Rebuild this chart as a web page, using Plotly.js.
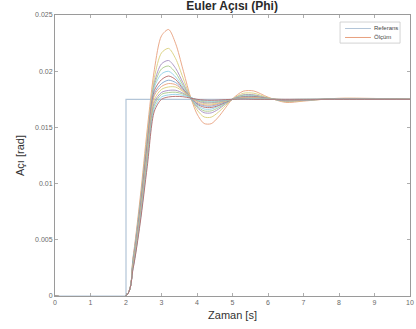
<!DOCTYPE html>
<html>
<head>
<meta charset="utf-8">
<script src="https://cdn.plot.ly/plotly-3.0.1.min.js"></script>
<style>html,body{margin:0;padding:0;background:#fff;}#chart{width:416px;height:329px;}</style>
</head>
<body>
<div id="chart"></div>
<script>
// Reference step
const refTime = [0, 2, 2, 10];
const refValue = [0, 0, 0.0175, 0.0175];

// Shared sample times of the measured responses (s)
const measTime = [0, 2, 2.2, 2.4, 2.6, 2.8, 3.0, 3.2, 3.4, 3.6, 3.8, 4.0, 4.2, 4.4, 4.6, 4.8, 5.0, 5.3, 5.6, 6.0, 6.5, 7.0, 8.0, 10.0];

const meas01 = [0, 0, 0.0035, 0.00875, 0.01488, 0.02016, 0.02315, 0.02371, 0.02244, 0.0202, 0.0179, 0.0162, 0.01535, 0.01533, 0.01591, 0.01673, 0.01754, 0.01822, 0.01824, 0.01769, 0.01722, 0.01734, 0.01759, 0.0175];
const meas02 = [0, 0, 0.00333, 0.0084, 0.01435, 0.01944, 0.02163, 0.02203, 0.02111, 0.01946, 0.0178, 0.01656, 0.01593, 0.01591, 0.01635, 0.01694, 0.01752, 0.01803, 0.01804, 0.01764, 0.01729, 0.01738, 0.01757, 0.0175];
const meas03 = [0, 0, 0.00333, 0.00823, 0.014, 0.01899, 0.02065, 0.02095, 0.02025, 0.019, 0.01773, 0.01678, 0.01631, 0.01629, 0.01661, 0.01708, 0.01752, 0.0179, 0.0179, 0.0176, 0.01734, 0.01741, 0.01755, 0.0175];
const meas04 = [0, 0, 0.00315, 0.00805, 0.01383, 0.01876, 0.0202, 0.02046, 0.01985, 0.01878, 0.01769, 0.01689, 0.01647, 0.01647, 0.01675, 0.01713, 0.01752, 0.01785, 0.01785, 0.01759, 0.01736, 0.01743, 0.01754, 0.0175];
const meas05 = [0, 0, 0.00315, 0.00788, 0.01365, 0.01857, 0.01976, 0.01999, 0.01948, 0.01859, 0.01766, 0.01698, 0.01664, 0.01663, 0.01687, 0.01719, 0.01752, 0.01778, 0.0178, 0.01757, 0.0174, 0.01743, 0.01754, 0.0175];
const meas06 = [0, 0, 0.00298, 0.0077, 0.01348, 0.01829, 0.01925, 0.01957, 0.01925, 0.01846, 0.01771, 0.01708, 0.0168, 0.01677, 0.01694, 0.01722, 0.0175, 0.01773, 0.01775, 0.01757, 0.01741, 0.01745, 0.01752, 0.0175];
const meas07 = [0, 0, 0.00298, 0.00753, 0.01313, 0.01803, 0.0189, 0.0192, 0.01899, 0.01838, 0.01771, 0.01715, 0.01692, 0.01689, 0.01705, 0.01727, 0.0175, 0.01769, 0.01769, 0.01755, 0.01743, 0.01747, 0.01752, 0.0175];
const meas08 = [0, 0, 0.0028, 0.00735, 0.01295, 0.01785, 0.01864, 0.0189, 0.0188, 0.01829, 0.01771, 0.01724, 0.01701, 0.01699, 0.01712, 0.01733, 0.0175, 0.01766, 0.01766, 0.01755, 0.01745, 0.01747, 0.0175, 0.0175];
const meas09 = [0, 0, 0.0028, 0.00718, 0.0126, 0.0175, 0.01838, 0.0186, 0.01859, 0.0182, 0.01773, 0.01733, 0.01712, 0.01708, 0.01719, 0.01734, 0.0175, 0.01762, 0.01762, 0.01754, 0.01747, 0.01748, 0.0175, 0.0175];
const meas10 = [0, 0, 0.00263, 0.007, 0.01243, 0.01724, 0.01811, 0.01829, 0.0183, 0.01806, 0.01771, 0.01738, 0.0172, 0.01719, 0.01726, 0.01738, 0.0175, 0.01759, 0.01759, 0.01752, 0.01747, 0.01748, 0.0175, 0.0175];
const meas11 = [0, 0, 0.00263, 0.00683, 0.01225, 0.01698, 0.01794, 0.0181, 0.01813, 0.01797, 0.01769, 0.01743, 0.01729, 0.01726, 0.01731, 0.01741, 0.0175, 0.01757, 0.01757, 0.01752, 0.01748, 0.0175, 0.0175, 0.0175];
const meas12 = [0, 0, 0.00245, 0.00665, 0.0119, 0.01671, 0.01771, 0.01789, 0.01794, 0.01785, 0.01768, 0.01747, 0.01736, 0.01733, 0.01736, 0.01743, 0.0175, 0.01755, 0.01755, 0.01752, 0.01748, 0.0175, 0.0175, 0.0175];
const meas13 = [0, 0, 0.00245, 0.00648, 0.01155, 0.01645, 0.0175, 0.01771, 0.01776, 0.01773, 0.01762, 0.0175, 0.01743, 0.01741, 0.01743, 0.01747, 0.0175, 0.01752, 0.0175, 0.0175, 0.0175, 0.0175, 0.0175, 0.0175];

const measSeries = [meas01, meas02, meas03, meas04, meas05, meas06, meas07, meas08, meas09, meas10, meas11, meas12, meas13];
const legendNames = ['Referans', 'Ölçüm'];
const refColor = '#b3c5d8';
const lineColors = ['#e8a07e', '#d9cf7a', '#a58fc0', '#a8c98a', '#8fcfe8', '#b46a6a', '#7ea3cc'];

const xTicks = [0, 1, 2, 3, 4, 5, 6, 7, 8, 9, 10];
const yTicks = [0, 0.005, 0.01, 0.015, 0.02, 0.025];
const yTickText = ['0', '0.005', '0.01', '0.015', '0.02', '0.025'];

const traces = [];
traces.push({
  x: refTime, y: refValue, type: 'scatter', mode: 'lines', name: legendNames[0],
  line: {color: refColor, width: 1.2}
});
measSeries.forEach((s, i) => {
  traces.push({
    x: measTime, y: s, type: 'scatter', mode: 'lines',
    name: legendNames[1],
    line: {color: lineColors[i % lineColors.length], width: 0.9, shape: 'spline', smoothing: 0.8}
  });
});

const axisCommon = {
  showgrid: false, zeroline: false, showline: true, linecolor: '#9a9a9a', linewidth: 1,
  mirror: 'ticks', ticks: 'inside', ticklen: 3, tickcolor: '#9a9a9a', tickwidth: 0.8,
  tickfont: {family: 'Liberation Sans, Arial', size: 7, color: '#6a6a6a'}
};

// Compact legend box (MATLAB style), drawn in paper coordinates
const lgFont = {family: 'Liberation Sans, Arial', size: 6, color: '#444'};
const shapes = [
  {type: 'rect', xref: 'paper', yref: 'paper', x0: 0.803, x1: 0.972, y0: 0.900, y1: 0.975,
   line: {color: '#c8c8c8', width: 0.8}, fillcolor: '#ffffff', layer: 'above'},
  {type: 'line', xref: 'paper', yref: 'paper', x0: 0.817, x1: 0.890, y0: 0.952, y1: 0.952,
   line: {color: refColor, width: 1}, layer: 'above'},
  {type: 'line', xref: 'paper', yref: 'paper', x0: 0.817, x1: 0.890, y0: 0.920, y1: 0.920,
   line: {color: lineColors[0], width: 1}, layer: 'above'}
];
const annotations = [
  {xref: 'paper', yref: 'paper', x: 0.893, y: 0.952, xanchor: 'left', yanchor: 'middle',
   text: legendNames[0], showarrow: false, font: lgFont},
  {xref: 'paper', yref: 'paper', x: 0.893, y: 0.920, xanchor: 'left', yanchor: 'middle',
   text: legendNames[1], showarrow: false, font: lgFont}
];

const layout = {
  width: 416, height: 329,
  margin: {l: 55, r: 6, t: 15, b: 33},
  paper_bgcolor: '#ffffff', plot_bgcolor: '#ffffff',
  showlegend: false,
  shapes: shapes, annotations: annotations,
  title: {text: '<b>Euler Açısı (Phi)</b>', x: 0.558, xanchor: 'center', y: 0.994, yanchor: 'top',
          font: {family: 'Liberation Sans, Arial', size: 12, color: '#2a2a2a'}},
  xaxis: Object.assign({}, axisCommon, {
    range: [0, 10], tickvals: xTicks, ticktext: xTicks.map(String),
    title: {text: 'Zaman [s]', standoff: 5, font: {family: 'Liberation Sans, Arial', size: 11, color: '#333'}}
  }),
  yaxis: Object.assign({}, axisCommon, {
    range: [0, 0.025], tickvals: yTicks, ticktext: yTickText,
    title: {text: 'Açı [rad]', standoff: 8, font: {family: 'Liberation Sans, Arial', size: 11, color: '#333'}}
  })
};

Plotly.newPlot('chart', traces, layout, {staticPlot: true, displayModeBar: false});
</script>
</body>
</html>
